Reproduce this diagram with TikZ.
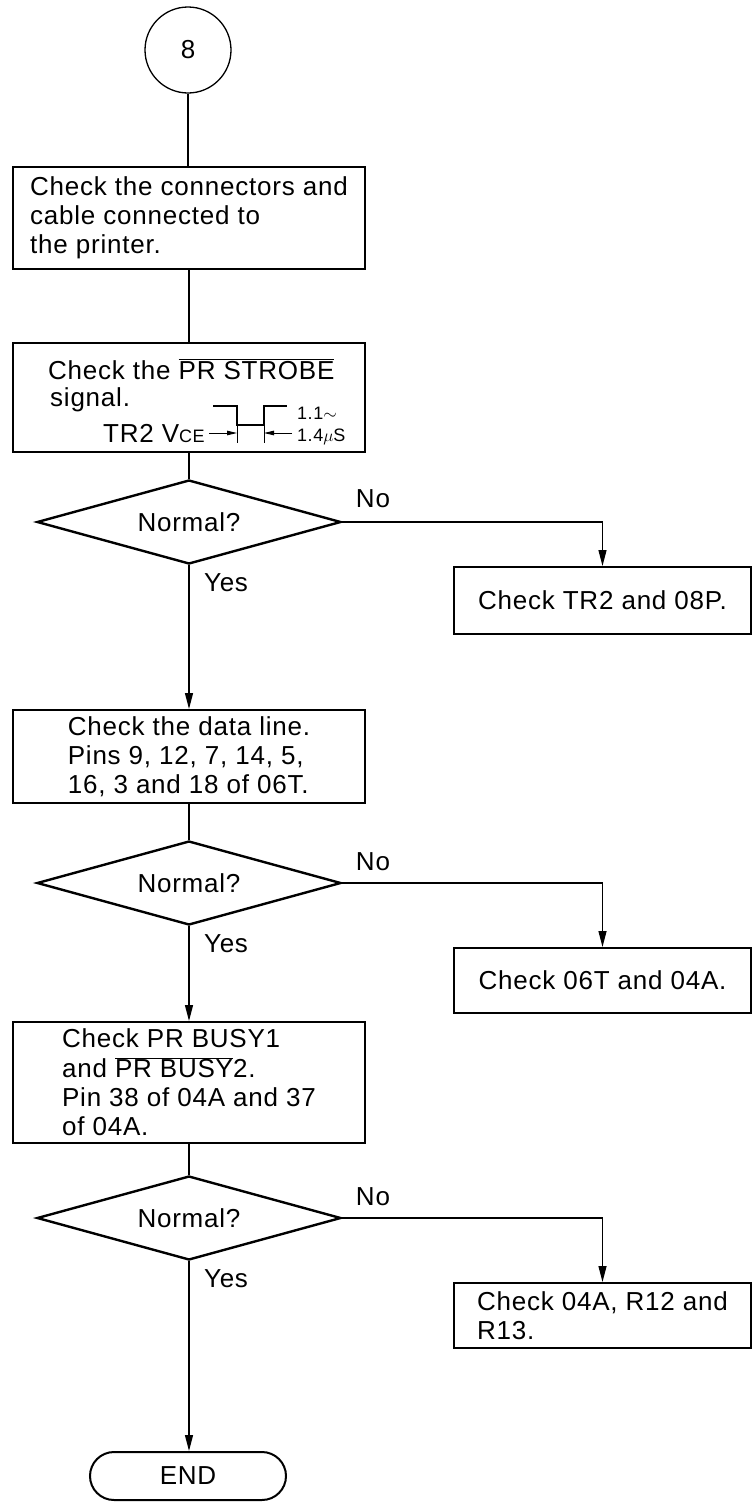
\documentclass[tikz,border=0pt]{standalone}
\usepackage{fontspec}
\setmainfont{Liberation Sans}[LetterSpace=3]
\usetikzlibrary{arrows.meta,shapes.geometric}
\newcommand{\ovl}[1]{$\overline{\mbox{#1}}$}
\begin{document}
\begin{tikzpicture}[x=1pt,y=-1pt,
  txt/.style={font=\fontsize{26}{29}\selectfont,inner sep=0pt},
  small/.style={font=\fontsize{18}{20}\selectfont,inner sep=0pt},
  mainbox/.style={draw,line width=2pt,minimum width=352pt,inner sep=0pt},
  sidebox/.style={draw,line width=2pt,minimum width=297pt,inner sep=0pt},
  decision/.style={draw,diamond,aspect=3.6,line width=2.4pt,minimum width=304pt,minimum height=84pt,inner sep=0pt,font=\fontsize{26}{29}\selectfont},
  conn/.style={line width=1.3pt},
  arr/.style={line width=1.3pt,-{Triangle[length=16pt,width=8pt]}},
  dimarr/.style={line width=1pt,-{Triangle[length=10pt,width=4.5pt]}},
  wave/.style={line width=2.2pt},
]
\clip (0,0) rectangle (753,1502);
\fill[white] (0,0) rectangle (753,1502);

% start connector
\node[circle,draw,line width=1.3pt,minimum size=86pt,inner sep=0pt,font=\fontsize{26}{29}\selectfont] (start) at (188,50) {8};

% box 1
\node[mainbox,txt,align=left,minimum height=102pt] (b1) at (189,218) {Check the connectors and\\cable connected to\\the printer.};

% box 2 with waveform
\node[mainbox,minimum height=109pt] (b2) at (189,397.5) {};
\node[txt,anchor=base west] (b2l1) at (48,379) {Check the \ovl{PR STROBE}};
\node[txt,anchor=base west] (b2l2) at (50,406) {signal.};
\node[txt,anchor=base west] (b2l3) at (103,442) {TR2 V{\fontsize{18}{20}\selectfont CE}};
\draw[wave] (213,406) -- (237,406) -- (237,425) -- (264,425) -- (264,406) -- (287,406);
\draw[line width=1pt] (237,425) -- (237,443) (264,425) -- (264,443);
\coordinate (a1s) at (209,433);
\coordinate (a1e) at (237,433);
\coordinate (a2s) at (292,433);
\coordinate (a2e) at (264,433);
\draw[dimarr] (a1s) -- (a1e);
\draw[dimarr] (a2s) -- (a2e);
\node[small,anchor=base west] (t11) at (297,419) {1.1$\sim$};
\node[small,anchor=base west] (t14) at (297,441) {1.4$\mu$S};

% decision 1
\node[decision] (d1) at (189,522) {Normal?};
\node[sidebox,txt,minimum height=67pt] (r1) at (602.5,600.5) {Check TR2 and 08P.};
\node[txt] (no1) at (373,499) {No};
\node[txt] (yes1) at (226,583) {Yes};

% data box
\node[mainbox,txt,align=left,minimum height=93pt] (b3) at (189,756.5) {Check the data line.\\Pins 9, 12, 7, 14, 5,\\16, 3 and 18 of 06T.};

% decision 2
\node[decision] (d2) at (189,883) {Normal?};
\node[sidebox,txt,minimum height=65pt] (r2) at (602.5,980.5) {Check 06T and 04A.};
\node[txt] (no2) at (373,862) {No};
\node[txt] (yes2) at (226,944) {Yes};

% busy box
\node[mainbox,txt,align=left,minimum height=121pt] (b4) at (189,1082.5) {Check PR BUSY1\\[1pt]and \ovl{PR BUSY}2.\\Pin 38 of 04A and 37\\of 04A.};

% decision 3
\node[decision] (d3) at (189,1218) {Normal?};
\node[sidebox,txt,align=left,minimum height=65pt] (r3) at (602.5,1315.5) {Check 04A, R12 and\\R13.};
\node[txt] (no3) at (373,1197) {No};
\node[txt] (yes3) at (226,1279) {Yes};

% end
\node[draw,line width=2pt,rounded corners=24pt,minimum width=196pt,minimum height=48pt,txt] (end) at (188,1476) {END};

% connectors
\draw[conn] (start.south) -- (start.south |- b1.north);
\draw[conn] (b1) -- (b2);
\draw[conn] (b2) -- (d1);
\draw[arr] (d1) -- (b3);
\draw[arr] (d1.east) -| (r1.north);
\draw[conn] (b3) -- (d2);
\draw[arr] (d2) -- (b4);
\draw[arr] (d2.east) -| (r2.north);
\draw[conn] (b4) -- (d3);
\draw[arr] (d3.south) -- (d3.south |- end.north);
\draw[arr] (d3.east) -| (r3.north);
\end{tikzpicture}
\end{document}
